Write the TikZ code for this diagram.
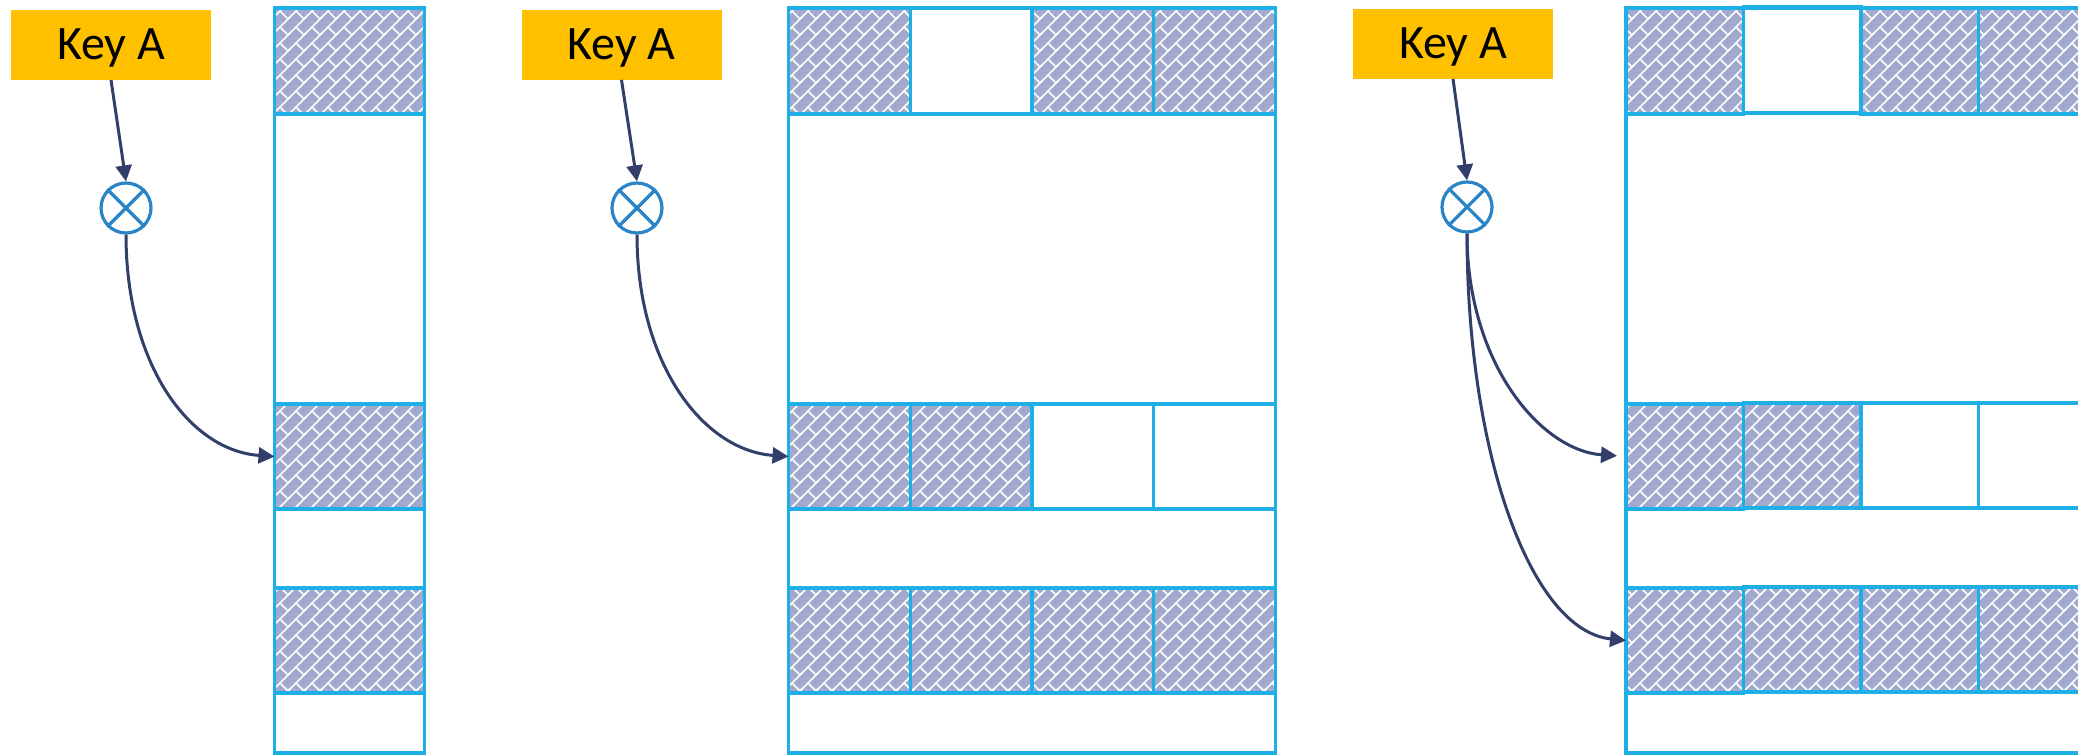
\documentclass[tikz,border=0pt]{standalone}
\usepackage{fontspec}
\setmainfont{Carlito}
\usetikzlibrary{arrows.meta,patterns}
\pgfdeclarepatternformonly{diagbrick}{\pgfqpoint{-1pt}{-1pt}}{\pgfqpoint{9pt}{9pt}}{\pgfqpoint{8pt}{8pt}}{%
  \pgfsetlinewidth{0.75pt}%
  \pgfpathmoveto{\pgfqpoint{-1pt}{-1pt}}\pgfpathlineto{\pgfqpoint{9pt}{9pt}}%
  \pgfpathmoveto{\pgfqpoint{4pt}{4pt}}\pgfpathlineto{\pgfqpoint{8pt}{0pt}}%
  \pgfusepath{stroke}}
\definecolor{keyfill}{HTML}{FFC000}
\definecolor{colline}{HTML}{1EAFE6}
\definecolor{hatchbg}{HTML}{A1A9CE}
\definecolor{xorblue}{HTML}{2A84C6}
\definecolor{arrnavy}{HTML}{333F6B}
\tikzset{
  keybox/.style={fill=keyfill, minimum width=100pt, minimum height=35pt, inner sep=0pt,
    text height=15pt, text depth=0pt, font=\fontsize{24pt}{28pt}\selectfont},
  xor/.style={circle, draw=xorblue, line width=1.6pt, fill=white, minimum size=25pt, inner sep=0pt},
  xorx/.style={draw=xorblue, line width=1.6pt},
  colbox/.style={rectangle, draw=colline, line width=1.6pt, inner sep=0pt, outer sep=0pt, anchor=north west},
  wc/.style={colbox},
  hc/.style={colbox, preaction={fill=hatchbg}, pattern=diagbrick, pattern color=white},
  arr/.style={draw=arrnavy, line width=1.5pt, -{Triangle[length=8pt,width=8pt]}},
  r1/.style={minimum height=53pt},
  r23/.style={minimum height=52.5pt},
}
\begin{document}
\begin{tikzpicture}[x=0.5pt,y=-0.5pt]
\useasboundingbox (0,0) rectangle (2078,755);
% ---------- panel 1 ----------
\node[colbox, minimum width=75pt, minimum height=372.5pt] (c1) at (274.5,8) {};
\node[hc, r1, minimum width=75pt] (p1r1c1) at (274.5,8) {};
\node[hc, r23, minimum width=75pt] (p1r2c1) at (274.5,404) {};
\node[hc, r23, minimum width=75pt] (p1r3c1) at (274.5,588) {};
\node[keybox] (k1) at (111,44.5) {Key A};
\node[xor] (x1) at (126,208) {};
\draw[xorx] (x1.north west) -- (x1.south east) (x1.north east) -- (x1.south west);
\draw[arr] (k1.south) -- (x1.north);
\draw[arr] (x1.south) .. controls +(0,130) and +(-85,-6) .. (p1r2c1.west);
% ---------- panel 2 ----------
\node[colbox, minimum width=243.5pt, minimum height=372.5pt] (c2) at (788.5,8) {};
\node[hc, r1, minimum width=60.875pt] (p2r1c1) at (788.5,8) {};
\node[wc, r1, minimum width=60.875pt] (p2r1c2) at (910.25,8) {};
\node[hc, r1, minimum width=60.875pt] (p2r1c3) at (1032,8) {};
\node[hc, r1, minimum width=60.875pt] (p2r1c4) at (1153.75,8) {};
\node[hc, r23, minimum width=60.875pt] (p2r2c1) at (788.5,404) {};
\node[hc, r23, minimum width=60.875pt] (p2r2c2) at (910.25,404) {};
\node[wc, r23, minimum width=60.875pt] (p2r2c3) at (1032,404) {};
\node[wc, r23, minimum width=60.875pt] (p2r2c4) at (1153.75,404) {};
\node[hc, r23, minimum width=60.875pt] (p2r3c1) at (788.5,588) {};
\node[hc, r23, minimum width=60.875pt] (p2r3c2) at (910.25,588) {};
\node[hc, r23, minimum width=60.875pt] (p2r3c3) at (1032,588) {};
\node[hc, r23, minimum width=60.875pt] (p2r3c4) at (1153.75,588) {};
\node[keybox] (k2) at (621.5,44.5) {Key A};
\node[xor] (x2) at (637,208) {};
\draw[xorx] (x2.north west) -- (x2.south east) (x2.north east) -- (x2.south west);
\draw[arr] (k2.south) -- (x2.north);
\draw[arr] (x2.south) .. controls +(0,130) and +(-85,-6) .. (p2r2c1.west);
% ---------- panel 3 ----------
\node[colbox, minimum width=235pt, minimum height=372.5pt] (c3) at (1626,8) {};
\node[hc, r1, minimum width=58.75pt] (p3r1c1) at (1626,8) {};
\node[wc, r1, minimum width=58.75pt] (p3r1c2) at (1743.5,7) {};
\node[hc, r1, minimum width=58.75pt] (p3r1c3) at (1861,8) {};
\node[hc, r1, minimum width=58.75pt] (p3r1c4) at (1978.5,8) {};
\node[hc, r23, minimum width=58.75pt] (p3r2c1) at (1626,404) {};
\node[hc, r23, minimum width=58.75pt] (p3r2c2) at (1743.5,403) {};
\node[wc, r23, minimum width=58.75pt] (p3r2c3) at (1861,403) {};
\node[wc, r23, minimum width=58.75pt] (p3r2c4) at (1978.5,403) {};
\node[hc, r23, minimum width=58.75pt] (p3r3c1) at (1626,588) {};
\node[hc, r23, minimum width=58.75pt] (p3r3c2) at (1743.5,587) {};
\node[hc, r23, minimum width=58.75pt] (p3r3c3) at (1861,587) {};
\node[hc, r23, minimum width=58.75pt] (p3r3c4) at (1978.5,587) {};
\node[keybox] (k3) at (1453,43.5) {Key A};
\node[xor] (x3) at (1467,207) {};
\draw[xorx] (x3.north west) -- (x3.south east) (x3.north east) -- (x3.south west);
\draw[arr] (k3.south) -- (x3.north);
\draw[arr, shorten >=4.5pt] (x3.south) .. controls +(0,130) and +(-85,-6) .. (p3r2c1.west);
\draw[arr] (x3.south) .. controls +(0,218) and +(-96,-10) .. (p3r3c1.west);
\end{tikzpicture}
\end{document}
